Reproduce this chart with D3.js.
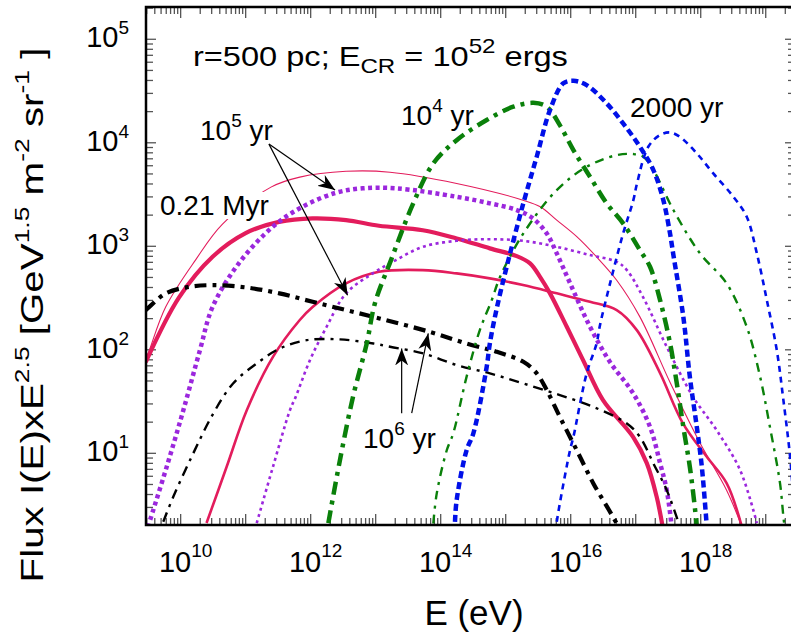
<!DOCTYPE html>
<html>
<head>
<meta charset="utf-8">
<script src="https://cdn.jsdelivr.net/npm/d3@7"></script>
<style>
  body { margin: 0; background: #fff; }
  text { font-family: "Liberation Sans", Arial, sans-serif; fill: #000; }
</style>
</head>
<body>
<div id="chart"></div>
<script>
// ---- data: [E (eV), flux I(E) x E^2.5] ----
const redThin = [[2.9e9, 80], [3.3e9, 99], [5.9e9, 260], [1.7e10, 740], [4.4e10, 1640], [2.45e11, 3730],
  [6.8e11, 4660], [3.5e12, 5300], [1.66e13, 5200], [1.76e14, 4050], [1.85e15, 2790], [3.4e15, 2410],
  [6.1e15, 1790], [1.24e16, 1240], [2.5e16, 790], [5.1e16, 470], [1.16e17, 208], [3.4e17, 48],
  [9.8e17, 12.5], [2.5e18, 4.4], [4.3e18, 1.95]];
const redThick = [[2.9e9, 76], [9.4e9, 319], [3.1e10, 792], [1.0e11, 1340], [3.26e11, 1720], [1.07e12, 1860],
  [3.5e12, 1790], [1.12e13, 1580], [5.3e13, 1430], [1.76e14, 1190], [5.7e14, 955], [1.48e15, 804],
  [2.37e15, 684], [3.37e15, 507], [4.8e15, 351], [8.7e15, 167], [1.55e16, 79.5], [3.14e16, 32.6],
  [9.1e16, 14.4], [1.48e17, 8.04], [2.1e17, 3.8], [2.6e17, 1.95]];
const redMid = [[2.5e10, 2.12], [5.1e10, 7.41], [1.04e11, 26.1], [2.63e11, 85.5],
  [6.8e11, 194], [1.07e12, 259], [3.5e12, 438], [1.12e13, 567], [5.3e13, 589], [1.76e14, 547],
  [5.7e14, 490], [1.85e15, 422], [6.1e15, 351], [1.98e16, 291], [5.1e16, 242], [1.04e17, 155],
  [2.37e17, 59.6], [5.3e17, 19.6], [1.24e18, 9.25], [2.5e18, 5.15], [4.3e18, 1.95]];
const purpleThick = [[3.14e9, 1.95], [6.1e9, 7.41], [1.1e10, 26.1], [1.98e10, 99.3], [3.1e10, 260], [7.9e10, 688],
  [2.6e11, 1540], [7.5e11, 2410], [2.45e12, 3290], [6.3e12, 3630], [2.05e13, 3630], [1.76e14, 3010],
  [5.7e14, 2600], [1.48e15, 2240], [2.63e15, 1860], [4.28e15, 1330], [6.1e15, 854], [9.75e15, 441],
  [1.98e16, 167], [4.03e16, 76], [9.1e16, 38.2], [1.66e17, 18.0], [2.37e17, 8.04], [3.0e17, 4.41], [3.58e17, 1.95]];
const purpleThin = [[1.48e11, 2.12], [2.63e11, 7.41], [4.8e11, 26.1], [5.9e11, 35.2], [9.75e11, 79.5], [1.76e12, 167],
  [3.5e12, 351], [9.0e12, 547], [2.05e13, 736], [5.3e13, 988], [1.76e14, 1130], [5.7e14, 1170],
  [1.85e15, 1130], [6.1e15, 988], [1.98e16, 822], [5.1e16, 708], [7.3e16, 589], [1.29e17, 325],
  [3.0e17, 107], [7.6e17, 35.2], [1.76e18, 16.7], [4.03e18, 6.89], [7.3e18, 2.12]];
const greenThick = [[1.87e12, 2.12], [2.82e12, 8.6], [4.48e12, 35.2], [7.3e12, 116], [9.75e12, 283], [1.72e13, 736],
  [3.78e13, 2600], [7.7e13, 6320], [1.76e14, 10600], [5.1e14, 16600], [1.31e15, 22300], [2.66e15, 24300],
  [4.28e15, 22300], [6.8e15, 14800], [1.1e16, 8500], [1.98e16, 4700], [3.58e16, 2600], [6.4e16, 1665],
  [1.16e17, 919], [1.66e17, 634], [2.37e17, 302], [3.37e17, 116], [4.28e17, 47.6], [5.4e17, 18.0],
  [6.8e17, 7.41], [8.2e17, 2.83], [8.7e17, 1.95]];
const greenThin = [[7.7e13, 2.1], [8.7e13, 4.1], [1.24e14, 10.7], [1.56e14, 15.6], [2.5e14, 54.8], [4.0e14, 155],
  [6.1e14, 302], [8.2e14, 507], [1.87e15, 1330], [6.1e15, 3490], [1.76e16, 5860], [5.1e16, 7600],
  [9.2e16, 7780], [1.31e17, 7330], [1.87e17, 5450], [3.8e17, 2240], [9.75e17, 854], [2.5e18, 438],
  [5.1e18, 167], [8.2e18, 54.8], [1.16e19, 18], [1.66e19, 5.12], [1.87e19, 2.43], [1.98e19, 1.8]];
const blueThick = [[1.66e14, 2.18], [1.76e14, 3.53], [2.5e14, 10.7], [3.18e14, 15.6], [5.1e14, 68.5], [5.7e14, 115],
  [7.3e14, 253], [1.1e15, 736], [1.87e15, 2610], [3.0e15, 7330], [4.8e15, 20700], [7.7e15, 37500],
  [1.1e16, 39700], [1.76e16, 36100], [3.58e16, 24000], [6.4e16, 15400], [1.16e17, 9150], [1.87e17, 5450],
  [2.66e17, 2790], [3.37e17, 1330], [3.8e17, 822], [5.4e17, 208], [6.8e17, 54.8], [8.7e17, 18],
  [1.04e18, 7.41], [1.24e18, 1.95]];
const blueThin = [[6.1e15, 2.18], [6.8e15, 3.28], [9.75e15, 10.7], [1.1e16, 14.4], [1.76e16, 59.2], [2.5e16, 115],
  [2.82e16, 173], [4.03e16, 438], [6.4e16, 1330], [9.2e16, 2790], [1.05e17, 4080], [1.56e17, 9150],
  [2.37e17, 11900], [3.37e17, 12600], [4.8e17, 11400], [8.7e17, 7900], [1.56e18, 5060], [3.18e18, 3010],
  [5.1e18, 1930], [7.3e18, 854], [1.04e19, 302], [1.48e19, 99], [1.87e19, 32.6], [2.37e19, 9.25], [2.82e19, 2.3]];
const blackThick = [[2.9e9, 242], [3.3e9, 260], [5.9e9, 351], [1.36e10, 406], [3.1e10, 421], [1.0e11, 401],
  [3.3e11, 351], [1.07e12, 291], [3.5e12, 242], [1.14e13, 201], [6.8e13, 149], [2.5e14, 115],
  [7.3e14, 95.6], [1.87e15, 76.6], [3.0e15, 59.2], [4.28e15, 40.8], [6.8e15, 22.5], [1.24e16, 10.7],
  [2.23e16, 5.12], [4.03e16, 2.72], [5.1e16, 2.1]];
const blackThin = [[5.4e9, 2.18], [7.7e9, 3.8], [1.56e10, 9.97], [3.18e10, 24.3], [6.4e10, 47.3], [1.48e11, 73.9],
  [3.37e11, 103], [8.7e11, 124], [2.82e12, 126], [9.2e12, 115], [1.66e13, 107], [5.4e13, 92.3],
  [1.76e14, 71.2], [5.7e14, 59.2], [1.87e15, 47.3], [6.8e15, 36.5], [2.23e16, 28.1], [7.3e16, 19.4],
  [1.16e17, 14.4], [1.87e17, 7.98], [3.0e17, 4.41], [4.8e17, 1.95]];

// axis ticks
const xMajorExp = [10, 11, 12, 13, 14, 15, 16, 17, 18, 19];
const xLabelExp = [10, 12, 14, 16, 18];
const yMajorExp = [1, 2, 3, 4, 5];
const yLabelExp = [1, 2, 3, 4, 5];

// arrows: [from, to] in data coordinates
const arrows = [
  [[2.28e11, 9710], [2.37e12, 3490]],
  [[2.28e11, 9710], [3.7e12, 337]],
  [[2.51e13, 24.4], [2.51e13, 103]],
  [[3.58e13, 24.4], [6.44e13, 144]]
];

// series styles
const series = [
  { data: redThin,    color: "#e31c5c", width: 1.1, dash: null },
  { data: redMid,     color: "#e31c5c", width: 2.6, dash: null },
  { data: redThick,   color: "#e31c5c", width: 4.2, dash: null },
  { data: purpleThin, color: "#9b27dd", width: 2.6, dash: "3,3.5" },
  { data: purpleThick,color: "#9b27dd", width: 4.5, dash: "4,3.5" },
  { data: blackThin,  color: "#000",    width: 2.4, dash: "10,6,3,6" },
  { data: blackThick, color: "#000",    width: 4.2, dash: "12,6,4,6" },
  { data: greenThin,  color: "#0a800a", width: 2.4, dash: "9,6,3,6" },
  { data: greenThick, color: "#0a800a", width: 4.5, dash: "13,6,4,6" },
  { data: blueThin,   color: "#0010e8", width: 2.6, dash: "6,5" },
  { data: blueThick,  color: "#0010e8", width: 4.5, dash: "7,4" }
];

// ---- layout ----
const W = 791, H = 639;
const plot = { left: 146, top: 7, right: 795, bottom: 525 };

const svg = d3.select("#chart").append("svg")
  .attr("width", W).attr("height", H);

const x = d3.scaleLog().domain([2.93e9, 2.82e19]).range([plot.left, plot.right]);
const y = d3.scaleLog().domain([2.03, 2.05e5]).range([plot.bottom, plot.top]);

const defs = svg.append("defs");
defs.append("clipPath").attr("id", "clip")
  .append("rect")
    .attr("x", plot.left).attr("y", plot.top)
    .attr("width", plot.right - plot.left).attr("height", plot.bottom - plot.top);

defs.append("marker")
    .attr("id", "arrowhead")
    .attr("viewBox", "-17 -7 19 14")
    .attr("refX", 0).attr("refY", 0)
    .attr("markerWidth", 19).attr("markerHeight", 14)
    .attr("markerUnits", "userSpaceOnUse")
    .attr("orient", "auto")
  .append("path")
    .attr("d", "M0,0 L-17,-6.5 L-12,0 L-17,6.5 Z")
    .attr("fill", "#000");

// minor + major tick values
const minorOf = (lo, hi) => {
  const out = [];
  for (let e = lo; e <= hi; e++)
    for (let m = 2; m <= 9; m++) out.push(m * Math.pow(10, e));
  return out;
};
const xMinor = minorOf(9, 19).filter(v => v > x.domain()[0] && v < x.domain()[1]);
const yMinor = minorOf(0, 5).filter(v => v > y.domain()[0] && v < y.domain()[1]);
const xMajor = xMajorExp.map(e => Math.pow(10, e));
const yMajor = yMajorExp.map(e => Math.pow(10, e));

const tickG = svg.append("g").attr("stroke", "#555").attr("stroke-width", 1.3);

// bottom/top ticks
[[xMinor, 7], [xMajor, 11]].forEach(([vals, len]) => {
  tickG.selectAll(null).data(vals).join("line")
    .attr("x1", d => x(d)).attr("x2", d => x(d))
    .attr("y1", plot.bottom).attr("y2", plot.bottom - len);
  tickG.selectAll(null).data(vals).join("line")
    .attr("x1", d => x(d)).attr("x2", d => x(d))
    .attr("y1", plot.top).attr("y2", plot.top + len);
});
// left/right ticks
[[yMinor, 7], [yMajor, 10]].forEach(([vals, len]) => {
  tickG.selectAll(null).data(vals).join("line")
    .attr("y1", d => y(d)).attr("y2", d => y(d))
    .attr("x1", plot.left).attr("x2", plot.left + len);
  tickG.selectAll(null).data(vals).join("line")
    .attr("y1", d => y(d)).attr("y2", d => y(d))
    .attr("x1", plot.right).attr("x2", plot.right - len);
});

// curves
const line = d3.line()
  .x(d => x(d[0]))
  .y(d => y(d[1]))
  .curve(d3.curveCatmullRom.alpha(0.5));

const curves = svg.append("g").attr("clip-path", "url(#clip)");
curves.selectAll("path").data(series).join("path")
  .attr("d", d => line(d.data))
  .attr("fill", "none")
  .attr("stroke", d => d.color)
  .attr("stroke-width", d => d.width)
  .attr("stroke-dasharray", d => d.dash)
  .attr("stroke-linejoin", "round");

// frame (left, top, bottom)
svg.append("path")
  .attr("d", `M${plot.right + 5},${plot.top} H${plot.left} V${plot.bottom} H${plot.right + 5}`)
  .attr("fill", "none").attr("stroke", "#000").attr("stroke-width", 2.5);

// tick labels
const xl = svg.append("g").attr("font-size", 29);
xLabelExp.forEach(e => {
  const t = xl.append("text")
    .attr("x", x(Math.pow(10, e)) + 5).attr("y", 572)
    .attr("text-anchor", "middle");
  t.append("tspan").text("10");
  t.append("tspan").attr("font-size", 19).attr("dy", -15).text(e);
});
const yl = svg.append("g").attr("font-size", 29);
yLabelExp.forEach(e => {
  const t = yl.append("text")
    .attr("x", 129).attr("y", y(Math.pow(10, e)) + 8)
    .attr("text-anchor", "end");
  t.append("tspan").text("10");
  t.append("tspan").attr("font-size", 19).attr("dy", -13).text(e);
});

// axis titles
svg.append("text")
  .attr("x", 474).attr("y", 625)
  .attr("text-anchor", "middle").attr("font-size", 35)
  .text("E (eV)");

const yt = svg.append("text")
  .attr("text-anchor", "middle").attr("font-size", 32);
[["Flux I(E)xE", 0], ["2.5", 1], [" [GeV", 0], ["1.5", 1], [" m", 0], ["-2", 1], [" sr", 0], ["-1", 1], [" ]", 0]]
  .forEach(([s, sup], i, arr) => {
    const ts = yt.append("tspan").text(s);
    if (sup) ts.attr("font-size", 21).attr("dy", -14);
    else if (i > 0 && arr[i - 1][1]) ts.attr("dy", 14);
  });
// stretch along the text direction to the length it has in the figure
const ytw = yt.node().getBBox().width;
yt.attr("transform", `translate(43,315) rotate(-90) scale(${535 / ytw},1)`);

// annotations
const ann = svg.append("g").attr("font-size", 28);

// label with white background
const bg = ann.append("rect").attr("fill", "#fff");
const myr = ann.append("text").attr("x", 160).attr("y", 215).text("0.21 Myr");
const bb = myr.node().getBBox();
bg.attr("x", bb.x - 2).attr("y", bb.y + 2).attr("width", bb.width + 6).attr("height", bb.height - 4);

const supLabel = (px, py, base, sup, rest) => {
  const t = ann.append("text").attr("x", px).attr("y", py);
  t.append("tspan").text(base);
  t.append("tspan").attr("font-size", 19).attr("dy", -13).text(sup);
  t.append("tspan").attr("dy", 13).text(rest);
  return t;
};
supLabel(200, 140, "10", "5", " yr");
supLabel(401, 125, "10", "4", " yr");
supLabel(363, 448, "10", "6", " yr");
ann.append("text").attr("x", 630).attr("y", 117).text("2000 yr");

// header text, stretched to the width it has in the figure
const title = ann.append("text").attr("x", 0).attr("y", 0).attr("font-size", 27);
title.append("tspan").text("r=500 pc; E");
title.append("tspan").attr("font-size", 20).attr("dy", 7).text("CR");
title.append("tspan").attr("dy", -7).text(" = 10");
title.append("tspan").attr("font-size", 20).attr("dy", -13).text("52");
title.append("tspan").attr("dy", 13).text(" ergs");
const tw = title.node().getBBox().width;
title.attr("transform", `translate(193,66) scale(${375 / tw},1)`);

// arrows
svg.append("g").selectAll("line").data(arrows).join("line")
  .attr("x1", d => x(d[0][0])).attr("y1", d => y(d[0][1]))
  .attr("x2", d => x(d[1][0])).attr("y2", d => y(d[1][1]))
  .attr("stroke", "#000").attr("stroke-width", 1.2)
  .attr("marker-end", "url(#arrowhead)");
</script>
</body>
</html>
